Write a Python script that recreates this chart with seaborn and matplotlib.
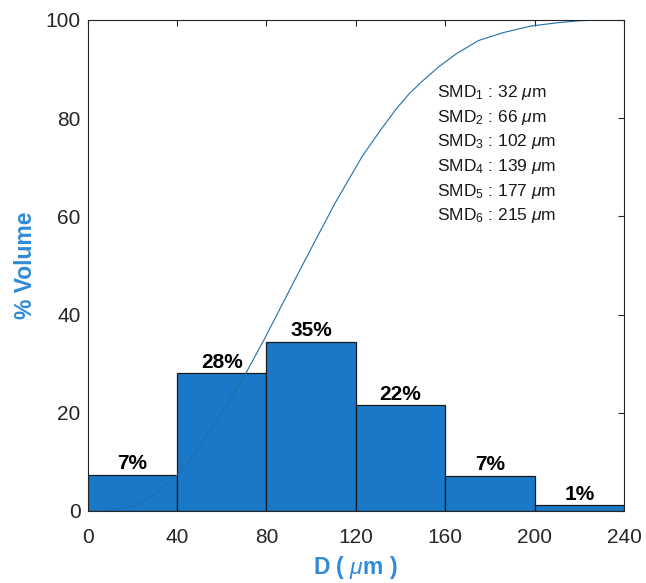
import matplotlib

matplotlib.use("Agg")
import matplotlib.pyplot as plt
import seaborn as sns

# histogram of volume fractions per size class
bin_edges = [0, 40, 80, 120, 160, 200, 240]
volume_pct = [7.4, 28.0, 34.5, 21.6, 7.2, 1.2]
bar_labels = ["7%", "28%", "35%", "22%", "7%", "1%"]

# cumulative volume curve
cum_d = [5, 9, 15, 22, 30, 40, 46, 52, 62, 71, 79, 86, 93, 101, 111, 123,
         131, 138, 144, 150, 157, 165, 175, 186, 198, 210, 220, 230, 240]
cum_pct = [0, 0.2, 0.6, 1.2, 3.4, 7.3, 10.5, 14.5, 21.3, 28.2, 34.9, 41.1,
           47.3, 54.3, 62.9, 72.3, 77.5, 81.8, 85, 87.6, 90.4, 93.1, 95.8,
           97.4, 98.7, 99.4, 99.8, 100, 100]

smd_values = [32, 66, 102, 139, 177, 215]

BAR_BLUE = "#1a78c8"
LINE_BLUE = "#1f6fa8"
LABEL_BLUE = "#2f8ad8"


def main():
    sns.set_theme(style="white")
    plt.rcParams["font.family"] = ["Liberation Sans", "DejaVu Sans"]
    plt.rcParams["mathtext.fontset"] = "custom"
    plt.rcParams["mathtext.rm"] = "Liberation Sans"
    plt.rcParams["mathtext.it"] = "Liberation Sans:italic"
    plt.rcParams["mathtext.bf"] = "Liberation Sans:bold"

    fig = plt.figure(figsize=(6.46, 5.83), dpi=100)
    ax = fig.add_axes([0.1355, 0.1235, 0.8305, 0.8425])

    centers = [(a + b) / 2 for a, b in zip(bin_edges[:-1], bin_edges[1:])]
    sns.histplot(x=centers, weights=volume_pct, bins=bin_edges, ax=ax,
                 color=BAR_BLUE, alpha=1.0, edgecolor="#1a1a1a", linewidth=0.9)
    ax.bar_label(ax.containers[0], labels=bar_labels, padding=1,
                 fontsize=15, fontweight="bold", color="black")

    sns.lineplot(x=cum_d, y=cum_pct, ax=ax, color=LINE_BLUE, linewidth=0.8)

    ax.set_xlim(0, 240)
    ax.set_ylim(0, 100)
    ax.set_xticks(range(0, 241, 40))
    ax.set_yticks(range(0, 101, 20))
    ax.tick_params(direction="in", length=4, width=0.8, top=True, right=True,
                   labelsize=15, labelcolor="#262626", colors="#262626")
    ax.tick_params(axis="x", pad=12)
    ax.tick_params(axis="y", pad=5)
    for s in ax.spines.values():
        s.set_visible(True)
        s.set_color("#262626")
        s.set_linewidth(0.8)

    ax.set_xlabel(r"D ( $\mathit{\mu}$m )", fontsize=16.5, fontweight="bold",
                  color=LABEL_BLUE, labelpad=5)
    ax.set_ylabel("% Volume", fontsize=16.5, fontweight="bold",
                  color=LABEL_BLUE, labelpad=6)

    for i, v in enumerate(smd_values):
        ax.text(0.651, 0.852 - i * 0.0502, rf"SMD$_{i + 1}$ : {v} $\mu$m",
                transform=ax.transAxes, fontsize=12.5, color="#1a1a1a",
                va="center", ha="left")

    fig.savefig("out.png", dpi=100)


if __name__ == "__main__":
    main()
